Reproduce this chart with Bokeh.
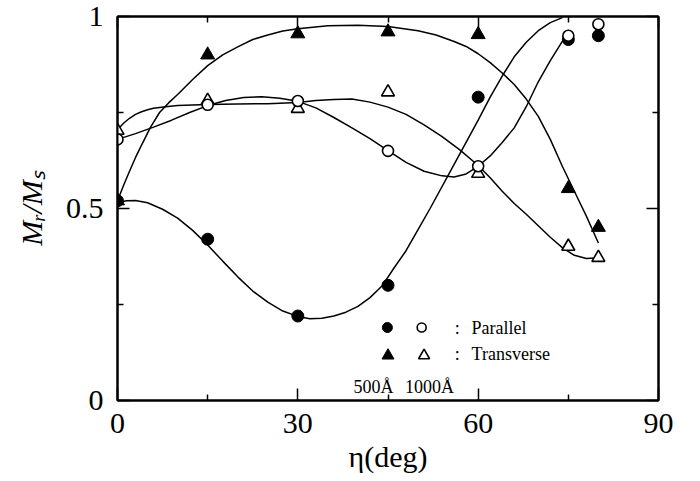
from bokeh.plotting import figure
from bokeh.models import Range1d, FixedTicker, LinearAxis, CustomJSTickFormatter
from bokeh.core.properties import value
from bokeh.embed import file_html
from bokeh.resources import INLINE

# ---- measured data points ----
eta = [0, 15, 30, 45, 60, 75, 80]
par_500 = [0.52, 0.42, 0.22, 0.30, 0.79, 0.94, 0.95]
par_1000 = [0.68, 0.77, 0.78, 0.65, 0.61, 0.95, 0.98]
tr_500 = [0.52, 0.90, 0.955, 0.96, 0.953, 0.552, 0.451]
tr_1000 = [0.703, 0.781, 0.76, 0.803, 0.591, 0.401, 0.372]

# ---- hand-drawn guide curves ----
fit_par500_x = [0, 1.5, 3, 5, 7.5, 10, 12.5, 15, 17.5, 20, 22.5, 25, 27.5, 30, 32, 34, 36,
                38, 40, 42, 44, 46, 48, 50, 52, 56, 60, 62, 64, 66, 68, 70, 72, 74]
fit_par500_y = [0.515, 0.52, 0.521, 0.515, 0.498, 0.475, 0.443, 0.405, 0.363, 0.322, 0.285,
                0.256, 0.233, 0.219, 0.213, 0.214, 0.22, 0.23, 0.245, 0.268, 0.298, 0.345,
                0.39, 0.445, 0.50, 0.615, 0.73, 0.79, 0.845, 0.895, 0.933, 0.963, 0.984, 0.997]

fit_tr500_x = [0, 1, 2, 3, 4, 5.5, 7, 8.5, 10, 12.5, 15, 17.5, 20, 22.5, 25, 27.5, 30, 35, 40,
               45, 50, 53, 56, 58, 60, 62, 64, 66, 68, 70, 72, 74, 76, 78, 80]
fit_tr500_y = [0.52, 0.56, 0.597, 0.633, 0.665, 0.712, 0.75, 0.775, 0.797, 0.836, 0.872, 0.9,
               0.921, 0.94, 0.952, 0.962, 0.968, 0.976, 0.977, 0.974, 0.963, 0.952, 0.935,
               0.922, 0.903, 0.88, 0.853, 0.823, 0.785, 0.74, 0.68, 0.61, 0.545, 0.48, 0.41]

fit_par1000_x = [0, 3, 6, 9, 12, 15, 18, 21, 24, 27, 30, 33, 36, 39, 42, 45, 48, 51, 54, 56,
                 58, 60, 62, 64, 66, 68, 70, 72, 74, 75]
fit_par1000_y = [0.68, 0.695, 0.712, 0.73, 0.75, 0.768, 0.781, 0.789, 0.791, 0.787, 0.779,
                 0.762, 0.737, 0.71, 0.682, 0.651, 0.62, 0.597, 0.585, 0.582, 0.59, 0.61,
                 0.637, 0.672, 0.71, 0.765, 0.83, 0.885, 0.935, 0.948]

fit_tr1000_x = [0, 1, 2, 3, 4, 5, 6, 8, 10, 15, 20, 25, 30, 33, 36, 39, 42, 45, 48, 51, 54, 57,
                60, 62, 64, 66, 68, 70, 72, 74, 76, 78, 80]
fit_tr1000_y = [0.705, 0.722, 0.735, 0.745, 0.752, 0.757, 0.761, 0.765, 0.768, 0.771, 0.772,
                0.773, 0.776, 0.781, 0.784, 0.785, 0.777, 0.764, 0.745, 0.718, 0.687, 0.652,
                0.612, 0.58, 0.545, 0.513, 0.485, 0.455, 0.425, 0.398, 0.378, 0.37, 0.372]

x_ticks = [0, 30, 60, 90]
x_minor = [15, 45, 75]
y_ticks = [0, 0.5, 1]
y_minor = [0.25, 0.75]
y_tick_labels = {0: "0", 0.5: "0.5", 1: "1"}

FONT = "Liberation Serif"

p = figure(width=700, height=481, x_range=Range1d(0, 90), y_range=Range1d(0, 1),
           output_backend="svg", toolbar_location=None,
           min_border_left=117, min_border_right=42, min_border_top=16,
           min_border_bottom=81)
p.xgrid.visible = False
p.ygrid.visible = False
p.outline_line_color = "black"
p.outline_line_width = 2
p.background_fill_color = "white"
p.border_fill_color = "white"


def style_axis(ax, ticks, minor, labels=True):
    ax.ticker = FixedTicker(ticks=ticks, minor_ticks=minor)
    ax.axis_line_color = "black"
    ax.axis_line_width = 2
    ax.major_tick_in = 12
    ax.major_tick_out = 0
    ax.minor_tick_in = 6
    ax.minor_tick_out = 0
    ax.major_tick_line_width = 1.5
    ax.minor_tick_line_width = 1.5
    ax.major_tick_line_color = "black"
    ax.minor_tick_line_color = "black"
    if labels:
        ax.major_label_text_font = FONT
        ax.major_label_text_font_size = "30px"
        ax.major_label_text_color = "black"
    else:
        ax.formatter = CustomJSTickFormatter(code="return ''")
        ax.major_label_text_font_size = "0px"
        ax.major_label_standoff = 0


xb = p.xaxis[0]
style_axis(xb, x_ticks, x_minor)
xb.major_label_standoff = 13
xb.axis_label = "η(deg)"
xb.axis_label_text_font = FONT
xb.axis_label_text_font_size = "30px"
xb.axis_label_text_font_style = "normal"
xb.axis_label_text_color = "black"
xb.axis_label_standoff = 4

yl = p.yaxis[0]
style_axis(yl, y_ticks, y_minor)
yl.major_label_overrides = y_tick_labels
yl.major_label_standoff = 14
yl.axis_label = "Mᵣ/Mₛ"
yl.axis_label_text_font = FONT
yl.axis_label_text_font_size = "30px"
yl.axis_label_text_font_style = "italic"
yl.axis_label_text_color = "black"
yl.axis_label_standoff = 15

xt = LinearAxis()
style_axis(xt, x_ticks, x_minor, labels=False)
p.add_layout(xt, "above")
yr = LinearAxis()
style_axis(yr, y_ticks, y_minor, labels=False)
p.add_layout(yr, "right")

# curves
for cx, cy in [(fit_par500_x, fit_par500_y), (fit_tr500_x, fit_tr500_y),
               (fit_par1000_x, fit_par1000_y), (fit_tr1000_x, fit_tr1000_y)]:
    p.line(cx, cy, line_color="black", line_width=1.5)

# markers
p.scatter(eta, tr_500, marker="triangle", size=14, fill_color="black", line_color="black")
p.scatter(eta, tr_1000, marker="triangle", size=13, fill_color="white", line_color="black",
          line_width=1.6)
p.scatter(eta, par_500, marker="circle", size=12, fill_color="black", line_color="black")
p.scatter(eta, par_1000, marker="circle", size=11, fill_color="white", line_color="black",
          line_width=1.6)

# legend (manual, as in the figure)
p.scatter([44.9], [0.19], marker="circle", size=10, fill_color="black", line_color="black")
p.scatter([50.6], [0.19], marker="circle", size=9, fill_color="white", line_color="black",
          line_width=1.6)
p.scatter([45.0], [0.117], marker="triangle", size=12, fill_color="black", line_color="black")
p.scatter([51.0], [0.117], marker="triangle", size=11, fill_color="white", line_color="black",
          line_width=1.6)
p.text(x=[56.1, 56.1], y=[0.19, 0.12], text=[":", ":"], text_font=value(FONT),
       text_font_size="18px", text_baseline="middle", text_align="left", text_color="black")
p.text(x=[58.9, 58.9], y=[0.19, 0.12], text=["Parallel", "Transverse"], text_font=value(FONT),
       text_font_size="18px", text_baseline="middle", text_align="left", text_color="black")
p.text(x=[42.6, 51.9], y=[0.034, 0.034], text=["500Å", "1000Å"], text_font=value(FONT),
       text_font_size="18px", text_baseline="alphabetic", text_align="center", text_color="black")

open("out.html", "w").write(file_html(p, INLINE))
